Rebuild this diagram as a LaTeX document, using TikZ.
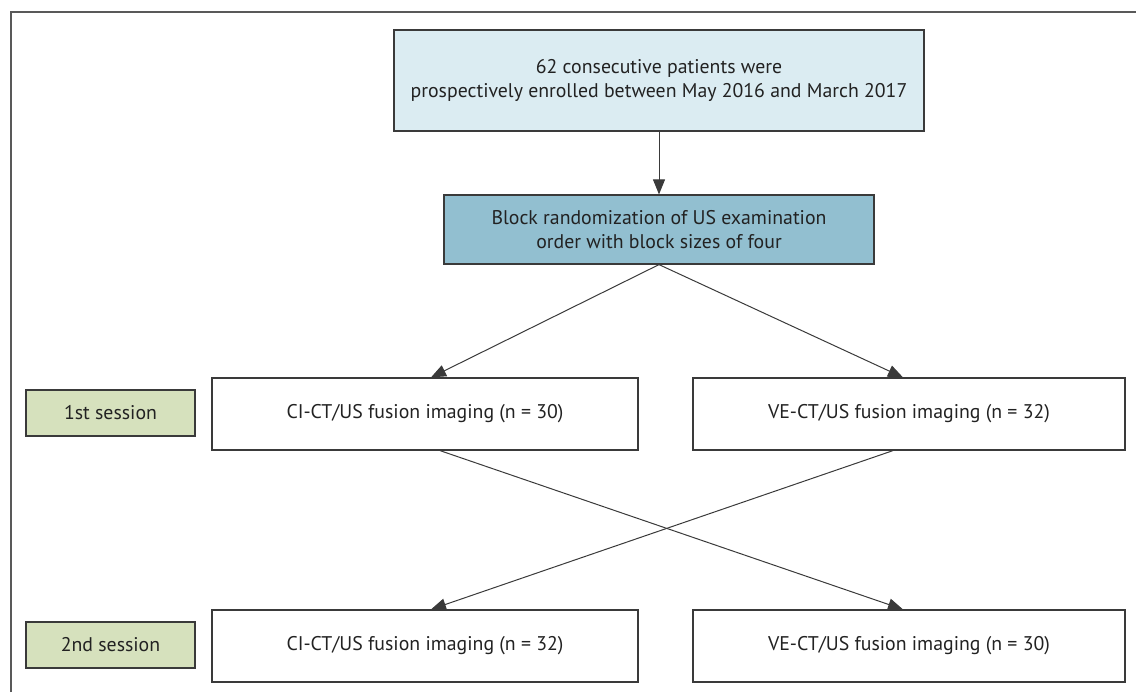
\documentclass[tikz,border=0pt]{standalone}
\usepackage{fontspec}
\setmainfont{PT Sans}
\usetikzlibrary{arrows.meta}
\definecolor{topfill}{HTML}{DBECF2}
\definecolor{midfill}{HTML}{92BFD0}
\definecolor{sesfill}{HTML}{D6E1BD}
\definecolor{edge}{HTML}{3A3A3A}
\definecolor{txt}{HTML}{222222}
\begin{document}
\begin{tikzpicture}[x=0.5pt,y=-0.5pt,
  box/.style={draw=edge,line width=0.6pt,inner sep=0pt,text=txt,align=center,font=\fontsize{9.9}{12}\selectfont},
  conn/.style={draw=edge,line width=0.5pt,-{Triangle[length=7.5pt,width=6pt]}},
  frame/.style={draw=black!65,line width=1pt}]
\useasboundingbox (0,0) rectangle (1136,692);
\draw[frame] (11,692) -- (11,11.5) -- (1136,11.5);
\node[box,fill=topfill,minimum width=265pt,minimum height=50.5pt] (enrol) at (659,80.5)
  {62 consecutive patients were\\prospectively enrolled between May 2016 and March 2017};
\node[box,fill=midfill,minimum width=215pt,minimum height=34.5pt] (rand) at (659,229.5)
  {Block randomization of US examination\\order with block sizes of four};
\node[box,fill=sesfill,minimum width=84.5pt,minimum height=23pt] (s1) at (110.5,413) {1st session};
\node[box,fill=sesfill,minimum width=84.5pt,minimum height=23pt] (s2) at (110.5,645) {2nd session};
\node[box,fill=white,minimum width=213pt,minimum height=36pt] (ci1) at (425,414) {CI-CT/US fusion imaging (n = 30)};
\node[box,fill=white,minimum width=216pt,minimum height=36pt] (ve1) at (909,414) {VE-CT/US fusion imaging (n = 32)};
\node[box,fill=white,minimum width=213pt,minimum height=36pt] (ci2) at (425,646) {CI-CT/US fusion imaging (n = 32)};
\node[box,fill=white,minimum width=216pt,minimum height=36pt] (ve2) at (909,646) {VE-CT/US fusion imaging (n = 30)};
\draw[conn] (enrol.south -| rand.north) -- (rand.north);
\coordinate (rb) at (rand.south);
\draw[conn] (rb) -- ([xshift=3pt]ci1.north);
\draw[conn] (rb) -- ([xshift=-3pt]ve1.north);
\draw[conn] ([xshift=7.5pt]ci1.south) -- ([xshift=-3pt]ve2.north);
\draw[conn] ([xshift=-8pt]ve1.south) -- ([xshift=3pt]ci2.north);
\end{tikzpicture}
\end{document}
